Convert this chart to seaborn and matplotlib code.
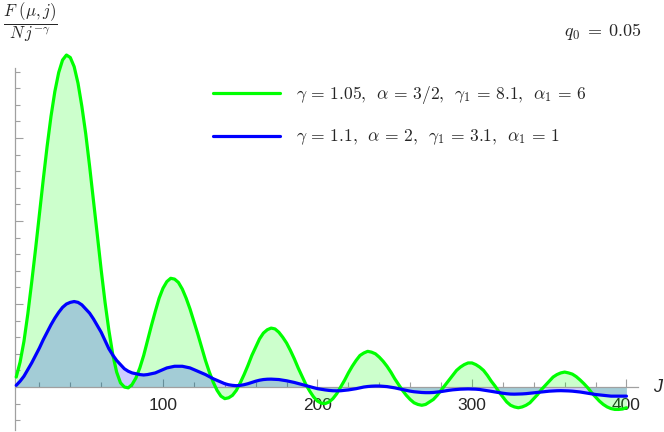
import matplotlib
matplotlib.use("Agg")
import matplotlib.pyplot as plt
import seaborn as sns
import numpy as np

j_vals = [5 + 2.5 * k for k in range(159)]

green_vals = [
    0.12, 0.30, 0.55, 0.88, 1.26, 1.66, 2.08, 2.50, 2.90, 3.26,
    3.56, 3.79, 3.94, 4.00, 3.97, 3.86, 3.66, 3.38, 3.05, 2.66,
    2.25, 1.83, 1.41, 1.02, 0.68, 0.39, 0.18, 0.05, 0.00, -0.01,
    0.03, 0.11, 0.23, 0.38, 0.56, 0.74, 0.91, 1.07, 1.19, 1.27,
    1.31, 1.30, 1.26, 1.18, 1.07, 0.94, 0.79, 0.64, 0.48, 0.32,
    0.18, 0.06, -0.04, -0.11, -0.14, -0.13, -0.10, -0.04, 0.05, 0.15,
    0.26, 0.38, 0.48, 0.58, 0.65, 0.69, 0.71, 0.70, 0.66, 0.60,
    0.53, 0.44, 0.34, 0.23, 0.13, 0.03, -0.05, -0.12, -0.17, -0.195,
    -0.20, -0.18, -0.14, -0.08, 0.00, 0.08, 0.17, 0.25, 0.32, 0.38,
    0.41, 0.43, 0.42, 0.40, 0.36, 0.31, 0.25, 0.18, 0.10, 0.03,
    -0.04, -0.10, -0.15, -0.19, -0.21, -0.22, -0.21, -0.18, -0.15, -0.10,
    -0.04, 0.02, 0.08, 0.14, 0.20, 0.24, 0.27, 0.29, 0.29, 0.27,
    0.24, 0.20, 0.14, 0.07, 0.01, -0.06, -0.12, -0.18, -0.22, -0.24,
    -0.25, -0.24, -0.22, -0.19, -0.14, -0.09, -0.03, 0.02, 0.07, 0.12,
    0.15, 0.17, 0.18, 0.17, 0.155, 0.125, 0.085, 0.04, -0.01, -0.07,
    -0.12, -0.17, -0.21, -0.24, -0.26, -0.27, -0.27, -0.265, -0.25,
]

blue_vals = [
    0.02, 0.07, 0.13, 0.21, 0.29, 0.38, 0.47, 0.57, 0.66, 0.75,
    0.83, 0.90, 0.96, 1.00, 1.02, 1.03, 1.02, 0.99, 0.94, 0.89,
    0.82, 0.74, 0.66, 0.56, 0.46, 0.385, 0.32, 0.27, 0.22, 0.19,
    0.17, 0.16, 0.15, 0.145, 0.15, 0.16, 0.17, 0.19, 0.21, 0.23,
    0.24, 0.25, 0.25, 0.25, 0.24, 0.23, 0.21, 0.19, 0.17, 0.15,
    0.125, 0.10, 0.08, 0.06, 0.04, 0.027, 0.02, 0.016, 0.02, 0.028,
    0.04, 0.055, 0.07, 0.082, 0.09, 0.094, 0.095, 0.093, 0.09, 0.083,
    0.075, 0.065, 0.055, 0.043, 0.03, 0.017, 0.005, -0.008, -0.02, -0.028,
    -0.035, -0.041, -0.045, -0.046, -0.045, -0.04, -0.035, -0.028, -0.02, -0.01,
    0.0, 0.006, 0.01, 0.012, 0.012, 0.009, 0.005, -0.002, -0.01, -0.02,
    -0.03, -0.04, -0.05, -0.057, -0.062, -0.066, -0.068, -0.068, -0.066, -0.061,
    -0.055, -0.047, -0.04, -0.034, -0.03, -0.026, -0.024, -0.023, -0.024, -0.026,
    -0.03, -0.037, -0.045, -0.052, -0.06, -0.068, -0.075, -0.081, -0.085, -0.086,
    -0.085, -0.083, -0.08, -0.075, -0.07, -0.065, -0.06, -0.055, -0.05, -0.047,
    -0.045, -0.044, -0.045, -0.047, -0.05, -0.055, -0.06, -0.067, -0.075, -0.083,
    -0.09, -0.095, -0.10, -0.105, -0.11, -0.11, -0.11, -0.11, -0.11,
]

green_label = r"$\gamma\,=\,1.05,\ \,\alpha\,=\,3/2,\ \,\gamma_1\,=\,8.1,\ \,\alpha_1\,=\,6$"
blue_label = r"$\gamma\,=\,1.1,\ \,\alpha\,=\,2,\ \,\gamma_1\,=\,3.1,\ \,\alpha_1\,=\,1$"

x_major = [100, 200, 300, 400]
x_minor = [20, 40, 60, 80, 120, 140, 160, 180, 220, 240, 260, 280, 320, 340, 360, 380]
y_major = [1, 2, 3]
y_minor = [-0.4, -0.2, 0.2, 0.4, 0.6, 0.8, 1.2, 1.4, 1.6, 1.8, 2.2, 2.4, 2.6, 2.8,
           3.2, 3.4, 3.6, 3.8]


def make_plot():
    sns.set_style("white")
    plt.rcParams["font.family"] = ["Liberation Sans", "DejaVu Sans"]
    plt.rcParams["mathtext.fontset"] = "cm"

    fig = plt.figure(figsize=(6.64, 4.32), dpi=100)
    ax = fig.add_axes([0, 0, 1, 1])
    ax.set_xlim(-5.5, 424.3)
    ax.set_ylim(-0.542, 4.663)

    ax.fill_between(j_vals, green_vals, 0, color=(0, 1, 0), alpha=0.2, lw=0, zorder=1)
    ax.fill_between(j_vals, blue_vals, 0, color=(0, 0, 1), alpha=0.2, lw=0, zorder=1)

    sns.lineplot(x=j_vals, y=green_vals, color="#00ff00", lw=2.3, sort=False,
                 label=green_label, ax=ax, zorder=3)
    sns.lineplot(x=j_vals, y=blue_vals, color="#0000ff", lw=2.3, sort=False,
                 label=blue_label, ax=ax, zorder=3)

    # Mathematica-like axes through the origin
    for s in ["top", "right"]:
        ax.spines[s].set_visible(False)
    ax.spines["left"].set_position(("data", 4.5))
    ax.spines["left"].set_bounds(-0.52, 3.84)
    ax.spines["bottom"].set_position(("data", 0))
    ax.spines["bottom"].set_bounds(4.5, 407.5)
    for s in ["left", "bottom"]:
        ax.spines[s].set_color("#a0a0a0")
        ax.spines[s].set_linewidth(0.9)

    ax.set_xticks(x_major)
    ax.set_xticks(x_minor, minor=True)
    ax.set_yticks(y_major)
    ax.set_yticks(y_minor, minor=True)
    ax.set_yticklabels([])
    ax.tick_params(which="both", bottom=True, left=True, top=False, right=False)
    ax.tick_params(which="major", direction="in", length=5.5, width=0.8,
                   color="#a0a0a0", labelsize=12.5, pad=8)
    ax.tick_params(which="minor", direction="in", length=3.6, width=0.8,
                   color="#a0a0a0")
    ax.set_xlabel("")
    ax.set_ylabel("")

    ax.legend(loc="upper left", bbox_to_anchor=(213 / 664, 1 - 84 / 432),
              bbox_transform=fig.transFigure, frameon=False, fontsize=12.6,
              handlelength=3.8, handletextpad=0.95, labelspacing=1.25,
              borderpad=0, borderaxespad=0)

    fig.text(658 / 664, 1 - 387 / 432, "J", ha="center", va="center",
             fontsize=13, fontstyle="italic")
    fig.text(30 / 664, 1 - 22 / 432, r"$\dfrac{F\ (\mu,j)}{N\,j^{-\gamma}}$",
             ha="center", va="center", fontsize=12)
    fig.text(603 / 664, 1 - 32 / 432, r"$q_0\;=\;0.05$", ha="center", va="center",
             fontsize=13)

    fig.savefig("out.png", dpi=100)


if __name__ == "__main__":
    make_plot()
